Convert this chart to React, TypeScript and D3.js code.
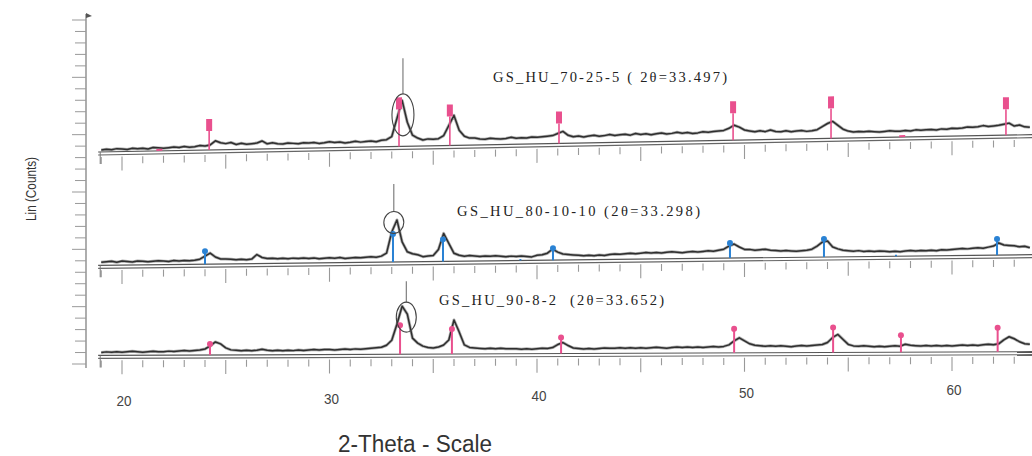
import React from 'react';
import * as d3 from 'd3';

// scan grid: 2-theta from 19 deg, every 0.25 deg
const thetaStart = 19;
const thetaStep = 0.25;

// intensities (arbitrary units above each panel baseline)
const counts70 = [
  2, 2.5, 2, 3, 2.5, 2, 3, 2.5, 3, 2, 3.5, 3, 2.5, 3, 3.5, 3, 4, 3, 3.5, 4.5,
  4, 5, 9, 7, 6, 7, 5, 6, 5, 5.5, 6, 8, 5, 6, 5, 4.5, 5.5, 5, 4.5, 5.5,
  5, 5.5, 4.5, 5, 6, 5, 5.5, 4.5, 5, 6, 5, 5.5, 6, 5, 6.5, 7, 10, 28, 46, 24,
  11, 8, 6, 7, 6.5, 7, 10, 20, 30, 15, 9, 7, 7, 6, 5.5, 6.5, 6, 5.5, 6, 7,
  6, 6.5, 6, 7, 6.5, 7, 7.5, 8, 10, 12, 8, 6.5, 7, 6, 7, 7.5, 6.5, 7, 8, 7,
  7.5, 8, 7, 8.5, 7.5, 8, 7, 8, 8.5, 7.5, 8, 9, 8, 8.5, 7.5, 8, 9, 8.5, 9, 9.5,
  10, 12, 15, 13, 10, 9, 8, 9, 8, 9.5, 8, 7.5, 8.5, 7.5, 8, 8.5, 7.5, 8, 9, 12,
  15, 17, 13, 9, 7, 6, 6.5, 6, 6.5, 6, 5.5, 6, 6.5, 6, 6, 6.5, 6, 7, 6.5, 7,
  7, 6.5, 7.5, 7, 8, 7.5, 8, 9, 8.5, 9, 10, 9, 9.5, 10, 11, 12, 9, 10, 8, 7.5,
];
const counts80 = [
  3, 3.5, 4, 3, 4, 3.5, 3, 4, 3.5, 3, 3.5, 4, 3.5, 3, 4, 3.5, 4, 3.5, 4, 5,
  8, 11, 7, 5, 5, 4.5, 4, 4.5, 4, 4.5, 9, 6, 5, 5, 4.5, 5, 4.5, 5, 4.5, 5,
  4.5, 5, 4, 4.5, 5, 4.5, 5, 4, 4.5, 5, 4.5, 5, 5.5, 5, 6, 9, 30, 42, 20, 10,
  8, 7, 5, 5.5, 6, 12, 28, 18, 8, 6, 5, 5.5, 5, 4.5, 5, 4.5, 5, 4.5, 4, 4.5,
  4, 4.5, 4, 3.5, 5, 5.5, 7, 11, 8, 6, 5.5, 5, 4.5, 4, 4.5, 4, 4.5, 4, 5, 5.5,
  5, 5.5, 6, 5.5, 6, 6.5, 6, 6.5, 6, 6.5, 7, 6.5, 6, 6.5, 7, 6.5, 7, 7.5, 7, 8,
  9, 12, 14, 11, 8.5, 8.5, 7.5, 8, 8.5, 7.5, 7, 6.5, 7, 6.5, 6, 6.5, 7, 8, 11, 15,
  16, 10, 8, 6.5, 6, 5.5, 6, 5, 5.5, 5, 5.5, 5, 4.5, 5, 4.5, 5, 5.5, 5, 5.5, 5,
  5.5, 5, 6, 5.5, 6, 6.5, 7, 6.5, 7, 7.5, 7, 8, 9, 12, 10, 9.5, 9, 8, 8.5, 7,
];
const counts90 = [
  3, 3.5, 3, 3.5, 3, 3.5, 4, 3.5, 3, 3.5, 4, 3.5, 3.5, 4, 3.5, 4, 4.5, 4, 4.5, 5,
  6, 9, 13, 11, 7, 5, 4.5, 4, 4.5, 4, 4.5, 5.5, 4.5, 4, 4.5, 4, 4.5, 4, 4.5, 4,
  4.5, 5, 4.5, 5, 5, 4.5, 5, 5.5, 5, 5.5, 5, 5.5, 6, 6.5, 7, 9, 14, 30, 48, 40,
  16, 11, 8, 6.5, 6, 7, 9, 14, 34, 22, 9, 6.5, 6, 5.5, 5, 5.5, 5, 5.5, 5, 5,
  5, 4.5, 5, 4.5, 5, 5.5, 5, 6, 9, 11, 8, 5.5, 5, 4.5, 5, 4.5, 5, 5.5, 5, 5,
  5.5, 5, 5.5, 5, 5.5, 5, 5.5, 6, 5.5, 5, 5.5, 6, 5.5, 6, 5.5, 6, 5.5, 6, 6.5, 6,
  6.5, 8, 12, 15, 12, 9, 7.5, 7, 6.5, 7, 6.5, 7, 6.5, 6, 6.5, 7, 6.5, 7, 7.5, 8,
  10, 15, 18, 13, 8, 6.5, 6, 6.5, 6, 5.5, 6, 5.5, 6, 6.5, 6, 8, 7, 6.5, 6, 6.5,
  6, 6.5, 6, 6.5, 6, 6.5, 7, 6.5, 7, 6.5, 7, 7.5, 7, 8, 12, 15, 13, 10, 8, 7.5,
];

// reference phase markers (2-theta) and their stick heights
const peaks70 = [21.8, 24.2, 33.35, 35.8, 41.06, 49.45, 54.17, 57.6, 62.6];
const marks70 = [2, 31, 49, 41, 32, 39, 42, 2, 38];
const peaks80 = [24.0, 33.06, 35.47, 39.2, 40.77, 49.3, 53.83, 57.3, 62.17];
const marks80 = [13, 28, 22, 1.5, 12, 15, 18, 1.5, 16];
const peaks90 = [24.24, 33.4, 35.9, 41.16, 49.5, 54.27, 57.54, 62.2];
const marks90 = [11, 29, 25, 16, 24, 25, 17, 24];

const sampleNames = ['GS_HU_70-25-5 ( 2θ=33.497)', 'GS_HU_80-10-10 (2θ=33.298)', 'GS_HU_90-8-2  (2θ=33.652)'];
const xTickLabels = [20, 30, 40, 50, 60];

const PINK = '#e9508e';
const BLUE = '#2a82d4';
const NARROW = "'Liberation Sans Narrow', 'Arial Narrow', 'Liberation Sans', sans-serif";
const SERIF = "'Liberation Serif', 'Times New Roman', serif";

const x = d3.scaleLinear().domain([20, 60]).range([122, 952]);
const y = d3.scaleLinear().domain([0, 50]).range([0, -50]);
const trace = d3
  .line<number>()
  .x((_, i) => x(thetaStart + i * thetaStep))
  .y(d => y(d));

// panel layout (the scan is slightly tilted, each strip a bit differently)
const panels = [
  {
    counts: counts70, peaks: peaks70, marks: marks70, color: PINK, kind: 'bar',
    y0: 153.8, slope: -0.0185,
    ring: { t: 33.54, h: 31.5, rx: 11, ry: 21, top: 88 },
    title: { x: 493, y: 82, w: 234 },
  },
  {
    counts: counts80, peaks: peaks80, marks: marks80, color: BLUE, kind: 'pin',
    y0: 266.5, slope: -0.0115,
    ring: { t: 33.1, h: 39.5, rx: 10, ry: 11, top: 78 },
    title: { x: 457, y: 216, w: 243 },
  },
  {
    counts: counts90, peaks: peaks90, marks: marks90, color: PINK, kind: 'pin',
    y0: 355.8, slope: -0.004,
    ring: { t: 33.7, h: 37, rx: 10, ry: 15, top: 73 },
    title: { x: 439, y: 305, w: 225 },
  },
];

const yAxis = d3.scaleLinear().domain([0, 30]).range([364, 20]);

export default function App() {
  const minorTicks = d3.range(19, 64);
  return (
    <svg
      width={1032}
      height={456}
      style={{ position: 'absolute', left: 0, top: 0, background: '#fff' }}
    >
      {/* y axis */}
      <line x1={86} x2={86} y1={14} y2={368} stroke="#777" strokeWidth={1.2} />
      <path d="M86,13 L92,16 L86,18 Z" fill="#555" />
      {yAxis.ticks(30).map(t => (
        <line
          key={t}
          x1={t % 5 === 0 ? 72 : 75}
          x2={86}
          y1={yAxis(t)}
          y2={yAxis(t)}
          stroke="#999"
          strokeWidth={1}
        />
      ))}
      <text
        transform="translate(36,189) rotate(-90)"
        textAnchor="middle"
        fontFamily={NARROW}
        fontSize={15}
        fill="#333"
        textLength={64}
        lengthAdjust="spacingAndGlyphs"
      >
        Lin (Counts)
      </text>

      {panels.map((p, pi) => {
        const skew = (Math.atan(p.slope) * 180) / Math.PI;
        const r = p.ring;
        return (
          <g key={pi}>
            <g transform={`translate(0,${p.y0}) skewY(${skew})`}>
              {minorTicks.map(t => (
                <line
                  key={t}
                  x1={x(t)}
                  x2={x(t)}
                  y1={5}
                  y2={t % 5 === 0 ? 19 : 12}
                  stroke="#999"
                  strokeWidth={1.1}
                />
              ))}
              <line x1={x(18.85)} x2={1040} y1={0} y2={0} stroke="#555" strokeWidth={1.2} />
              <line x1={x(18.85)} x2={1040} y1={3} y2={3} stroke="#666" strokeWidth={1.2} />
              <line x1={x(18.95)} x2={x(18.95)} y1={0} y2={12} stroke="#777" strokeWidth={1} />
              <line
                x1={x(r.t)}
                x2={x(r.t)}
                y1={y(r.top)}
                y2={y(r.h + r.ry)}
                stroke="#666"
                strokeWidth={1}
              />
              <path
                d={trace(p.counts) || ''}
                fill="none"
                stroke="#6a6a6a"
                strokeWidth={3}
                strokeLinejoin="round"
                opacity={0.55}
              />
              <path
                d={trace(p.counts) || ''}
                fill="none"
                stroke="#2e2e2e"
                strokeWidth={1.5}
                strokeLinejoin="round"
              />
              {p.peaks.map((t, i) => {
                const h = p.marks[i];
                if (p.kind === 'bar') {
                  const bh = Math.min(12, h);
                  return (
                    <g key={i}>
                      <rect x={x(t) - 3} y={y(h)} width={6} height={bh} fill={p.color} />
                      {h > 12 && (
                        <line
                          x1={x(t)}
                          x2={x(t)}
                          y1={y(h - 12)}
                          y2={y(0)}
                          stroke={p.color}
                          strokeWidth={1.6}
                        />
                      )}
                    </g>
                  );
                }
                return (
                  <g key={i}>
                    <line x1={x(t)} x2={x(t)} y1={y(h)} y2={y(0)} stroke={p.color} strokeWidth={2} />
                    {h > 3 && <circle cx={x(t)} cy={y(h)} r={3} fill={p.color} />}
                  </g>
                );
              })}
              <ellipse
                cx={x(r.t)}
                cy={y(r.h)}
                rx={r.rx}
                ry={r.ry}
                fill="none"
                stroke="#444"
                strokeWidth={1.1}
              />
            </g>
            <text
              x={p.title.x}
              y={p.title.y}
              fontFamily={SERIF}
              fontSize={14.5}
              fill="#222"
              textLength={p.title.w}
              lengthAdjust="spacing"
              style={{ whiteSpace: 'pre' }}
            >
              {sampleNames[pi]}
            </text>
          </g>
        );
      })}

      {/* 2-theta labels */}
      {xTickLabels.map(t => (
        <text
          key={t}
          x={x(t) + 2}
          y={408 - 0.0133 * x(t)}
          textAnchor="middle"
          fontFamily={NARROW}
          fontSize={14}
          fill="#444"
          textLength={15}
          lengthAdjust="spacingAndGlyphs"
        >
          {t}
        </text>
      ))}
      <text
        x={415}
        y={452}
        textAnchor="middle"
        fontFamily={NARROW}
        fontSize={23}
        fill="#333"
        textLength={154}
        lengthAdjust="spacingAndGlyphs"
      >
        2-Theta - Scale
      </text>
    </svg>
  );
}
